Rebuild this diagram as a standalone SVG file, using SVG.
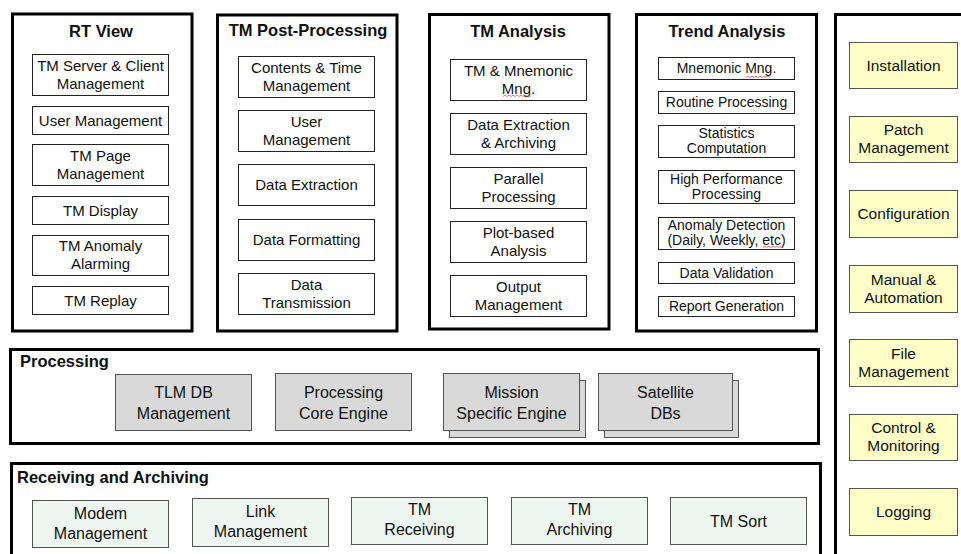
<svg xmlns="http://www.w3.org/2000/svg" width="961" height="554" viewBox="0 0 961 554">
  <style>
    text { font-family: "Liberation Sans", Arial, sans-serif; fill: #111; text-anchor: middle; }
    .title { font-size: 16.5px; font-weight: bold; }
    .ltitle { font-size: 16.5px; font-weight: bold; text-anchor: start; }
    .t { font-size: 15px; }
    .ty { font-size: 15.5px; }
    .ts { font-size: 14px; }
    .tl { font-size: 16px; }
    .frame { fill: #fff; stroke: #000; stroke-width: 3; }
    .box { fill: #fff; stroke: #222; stroke-width: 1; }
    .ybox { fill: #FFFFC8; stroke: #555; stroke-width: 1; }
    .gbox { fill: #D9D9D9; stroke: #555; stroke-width: 1; }
    .mbox { fill: #EEF6F1; stroke: #555; stroke-width: 1; }
    .squig { fill: none; stroke: #E04848; stroke-width: 0.8; }
  </style>

  <rect width="961" height="554" fill="#fff"/>

  <!-- RT View -->
  <g id="rt-view">
    <rect class="frame" x="12.5" y="14" width="179.5" height="317"/>
    <text class="title" x="101" y="37">RT View</text>
  </g>
  <g id="rt-server-client">
    <rect class="box" x="32.5" y="54.5" width="136" height="41"/>
    <text class="t" x="100.5" y="71">TM Server &amp; Client</text>
    <text class="t" x="100.5" y="89">Management</text>
  </g>
  <g id="rt-user">
    <rect class="box" x="32.5" y="106.5" width="136" height="28"/>
    <text class="t" x="100.5" y="125.5">User Management</text>
  </g>
  <g id="rt-page">
    <rect class="box" x="32.5" y="144.5" width="136" height="41"/>
    <text class="t" x="100.5" y="160.5">TM Page</text>
    <text class="t" x="100.5" y="178.5">Management</text>
  </g>
  <g id="rt-display">
    <rect class="box" x="32.5" y="196.5" width="136" height="28"/>
    <text class="t" x="100.5" y="215.5">TM Display</text>
  </g>
  <g id="rt-alarming">
    <rect class="box" x="32.5" y="235.5" width="136" height="40"/>
    <text class="t" x="100.5" y="251">TM Anomaly</text>
    <text class="t" x="100.5" y="269">Alarming</text>
  </g>
  <g id="rt-replay">
    <rect class="box" x="32.5" y="286.5" width="136" height="28"/>
    <text class="t" x="100.5" y="305.5">TM Replay</text>
  </g>

  <!-- TM Post-Processing -->
  <g id="tm-post-processing">
    <rect class="frame" x="217.5" y="15" width="179.5" height="316"/>
    <text class="title" x="308" y="36">TM Post-Processing</text>
  </g>
  <g id="pp-contents-time">
    <rect class="box" x="238.5" y="56.5" width="136" height="41"/>
    <text class="t" x="306.5" y="72.5">Contents &amp; Time</text>
    <text class="t" x="306.5" y="90.5">Management</text>
  </g>
  <g id="pp-user">
    <rect class="box" x="238.5" y="110.5" width="136" height="41"/>
    <text class="t" x="306.5" y="126.5">User</text>
    <text class="t" x="306.5" y="144.5">Management</text>
  </g>
  <g id="pp-extraction">
    <rect class="box" x="238.5" y="164.5" width="136" height="41"/>
    <text class="t" x="306.5" y="190">Data Extraction</text>
  </g>
  <g id="pp-formatting">
    <rect class="box" x="238.5" y="219.5" width="136" height="41"/>
    <text class="t" x="306.5" y="244.5">Data Formatting</text>
  </g>
  <g id="pp-transmission">
    <rect class="box" x="238.5" y="273.5" width="136" height="41"/>
    <text class="t" x="306.5" y="289.5">Data</text>
    <text class="t" x="306.5" y="307.5">Transmission</text>
  </g>

  <!-- TM Analysis -->
  <g id="tm-analysis">
    <rect class="frame" x="429.5" y="14.5" width="179.5" height="314.5"/>
    <text class="title" x="518" y="37">TM Analysis</text>
  </g>
  <g id="an-mnemonic">
    <rect class="box" x="450.5" y="59.5" width="136" height="41"/>
    <text class="t" x="518.5" y="75.5">TM &amp; Mnemonic</text>
    <text class="t" x="518.5" y="93.5">Mng.</text>
    <polyline class="squig" points="503,96.5 505,95 507,96.5 509,95 511,96.5 513,95 515,96.5 517,95 519,96.5 521,95 523,96.5 525,95 527,96.5 529,95 531,96.5"/>
  </g>
  <g id="an-extraction-archiving">
    <rect class="box" x="450.5" y="113.5" width="136" height="41"/>
    <text class="t" x="518.5" y="129.5">Data Extraction</text>
    <text class="t" x="518.5" y="147.5">&amp; Archiving</text>
  </g>
  <g id="an-parallel">
    <rect class="box" x="450.5" y="167.5" width="136" height="41"/>
    <text class="t" x="518.5" y="183.5">Parallel</text>
    <text class="t" x="518.5" y="201.5">Processing</text>
  </g>
  <g id="an-plot">
    <rect class="box" x="450.5" y="221.5" width="136" height="41"/>
    <text class="t" x="518.5" y="237.5">Plot-based</text>
    <text class="t" x="518.5" y="255.5">Analysis</text>
  </g>
  <g id="an-output">
    <rect class="box" x="450.5" y="275.5" width="136" height="41"/>
    <text class="t" x="518.5" y="291.5">Output</text>
    <text class="t" x="518.5" y="309.5">Management</text>
  </g>

  <!-- Trend Analysis -->
  <g id="trend-analysis">
    <rect class="frame" x="636.5" y="14.5" width="180" height="316.5"/>
    <text class="title" x="727" y="37">Trend Analysis</text>
  </g>
  <g id="tr-mnemonic">
    <rect class="box" x="658.5" y="57.5" width="136" height="22"/>
    <text class="ts" x="726.5" y="73">Mnemonic Mng.</text>
    <polyline class="squig" points="746,77.5 748,76 750,77.5 752,76 754,77.5 756,76 758,77.5 760,76 762,77.5 764,76 766,77.5 768,76 770,77.5"/>
  </g>
  <g id="tr-routine">
    <rect class="box" x="658.5" y="91.5" width="136" height="22"/>
    <text class="ts" x="726.5" y="107">Routine Processing</text>
  </g>
  <g id="tr-statistics">
    <rect class="box" x="658.5" y="125.5" width="136" height="32"/>
    <text class="ts" x="726.5" y="138">Statistics</text>
    <text class="ts" x="726.5" y="153">Computation</text>
  </g>
  <g id="tr-high-performance">
    <rect class="box" x="658.5" y="170.5" width="136" height="33"/>
    <text class="ts" x="726.5" y="183.5">High Performance</text>
    <text class="ts" x="726.5" y="198.5">Processing</text>
  </g>
  <g id="tr-anomaly">
    <rect class="box" x="658.5" y="217.5" width="136" height="32"/>
    <text class="ts" x="726.5" y="230">Anomaly Detection</text>
    <text class="ts" x="726.5" y="245">(Daily, Weekly, etc)</text>
    <polyline class="squig" points="763,247.5 765,246 767,247.5 769,246 771,247.5 773,246 775,247.5 777,246 779,247.5 781,246"/>
  </g>
  <g id="tr-validation">
    <rect class="box" x="658.5" y="262.5" width="136" height="21"/>
    <text class="ts" x="726.5" y="277.5">Data Validation</text>
  </g>
  <g id="tr-report">
    <rect class="box" x="658.5" y="296.5" width="136" height="20"/>
    <text class="ts" x="726.5" y="311">Report Generation</text>
  </g>

  <!-- Right-hand service column -->
  <g id="services">
    <rect class="frame" x="835.5" y="14.5" width="140" height="560"/>
  </g>
  <g id="svc-installation">
    <rect class="ybox" x="849.5" y="42.5" width="108" height="46"/>
    <text class="ty" x="903.5" y="70.5">Installation</text>
  </g>
  <g id="svc-patch">
    <rect class="ybox" x="849.5" y="116.5" width="108" height="46"/>
    <text class="ty" x="903.5" y="135">Patch</text>
    <text class="ty" x="903.5" y="153">Management</text>
  </g>
  <g id="svc-configuration">
    <rect class="ybox" x="849.5" y="190.5" width="108" height="47"/>
    <text class="ty" x="903.5" y="219">Configuration</text>
  </g>
  <g id="svc-manual-automation">
    <rect class="ybox" x="849.5" y="265.5" width="108" height="47"/>
    <text class="ty" x="903.5" y="285">Manual &amp;</text>
    <text class="ty" x="903.5" y="303">Automation</text>
  </g>
  <g id="svc-file">
    <rect class="ybox" x="849.5" y="339.5" width="108" height="47"/>
    <text class="ty" x="903.5" y="359">File</text>
    <text class="ty" x="903.5" y="377">Management</text>
  </g>
  <g id="svc-control-monitoring">
    <rect class="ybox" x="849.5" y="414.5" width="108" height="46"/>
    <text class="ty" x="903.5" y="433">Control &amp;</text>
    <text class="ty" x="903.5" y="451">Monitoring</text>
  </g>
  <g id="svc-logging">
    <rect class="ybox" x="849.5" y="488.5" width="108" height="47"/>
    <text class="ty" x="903.5" y="517">Logging</text>
  </g>

  <!-- Processing -->
  <g id="processing">
    <rect class="frame" x="10.5" y="349.5" width="808" height="94"/>
    <text class="ltitle" x="20" y="367">Processing</text>
  </g>
  <g id="proc-tlm-db">
    <rect class="gbox" x="115.5" y="374.5" width="136" height="56"/>
    <text class="tl" x="183.5" y="398">TLM DB</text>
    <text class="tl" x="183.5" y="419">Management</text>
  </g>
  <g id="proc-core-engine">
    <rect class="gbox" x="275.5" y="373.5" width="136" height="57"/>
    <text class="tl" x="343.5" y="397.5">Processing</text>
    <text class="tl" x="343.5" y="418.5">Core Engine</text>
  </g>
  <g id="proc-mission-engine">
    <rect class="gbox" x="449.5" y="380.5" width="136" height="57"/>
    <rect class="gbox" x="443.5" y="373.5" width="136" height="57"/>
    <text class="tl" x="511.5" y="397.5">Mission</text>
    <text class="tl" x="511.5" y="418.5">Specific Engine</text>
  </g>
  <g id="proc-satellite-dbs">
    <rect class="gbox" x="604.5" y="380.5" width="134" height="57"/>
    <rect class="gbox" x="598.5" y="373.5" width="134" height="57"/>
    <text class="tl" x="665.5" y="397.5">Satellite</text>
    <text class="tl" x="665.5" y="418.5">DBs</text>
  </g>

  <!-- Receiving and Archiving -->
  <g id="receiving-archiving">
    <rect class="frame" x="11.5" y="463.5" width="809" height="110"/>
    <text class="ltitle" x="17" y="483">Receiving and Archiving</text>
  </g>
  <g id="rx-modem">
    <rect class="mbox" x="32.5" y="500.5" width="136" height="47"/>
    <text class="tl" x="100.5" y="518.5">Modem</text>
    <text class="tl" x="100.5" y="538.5">Management</text>
  </g>
  <g id="rx-link">
    <rect class="mbox" x="192.5" y="498.5" width="136" height="48"/>
    <text class="tl" x="260.5" y="516.5">Link</text>
    <text class="tl" x="260.5" y="536.5">Management</text>
  </g>
  <g id="rx-tm-receiving">
    <rect class="mbox" x="351.5" y="497.5" width="136" height="47"/>
    <text class="tl" x="419.5" y="515">TM</text>
    <text class="tl" x="419.5" y="535">Receiving</text>
  </g>
  <g id="rx-tm-archiving">
    <rect class="mbox" x="511.5" y="497.5" width="136" height="47"/>
    <text class="tl" x="579.5" y="515">TM</text>
    <text class="tl" x="579.5" y="535">Archiving</text>
  </g>
  <g id="rx-tm-sort">
    <rect class="mbox" x="670.5" y="497.5" width="136" height="47"/>
    <text class="tl" x="738.5" y="527">TM Sort</text>
  </g>
</svg>
